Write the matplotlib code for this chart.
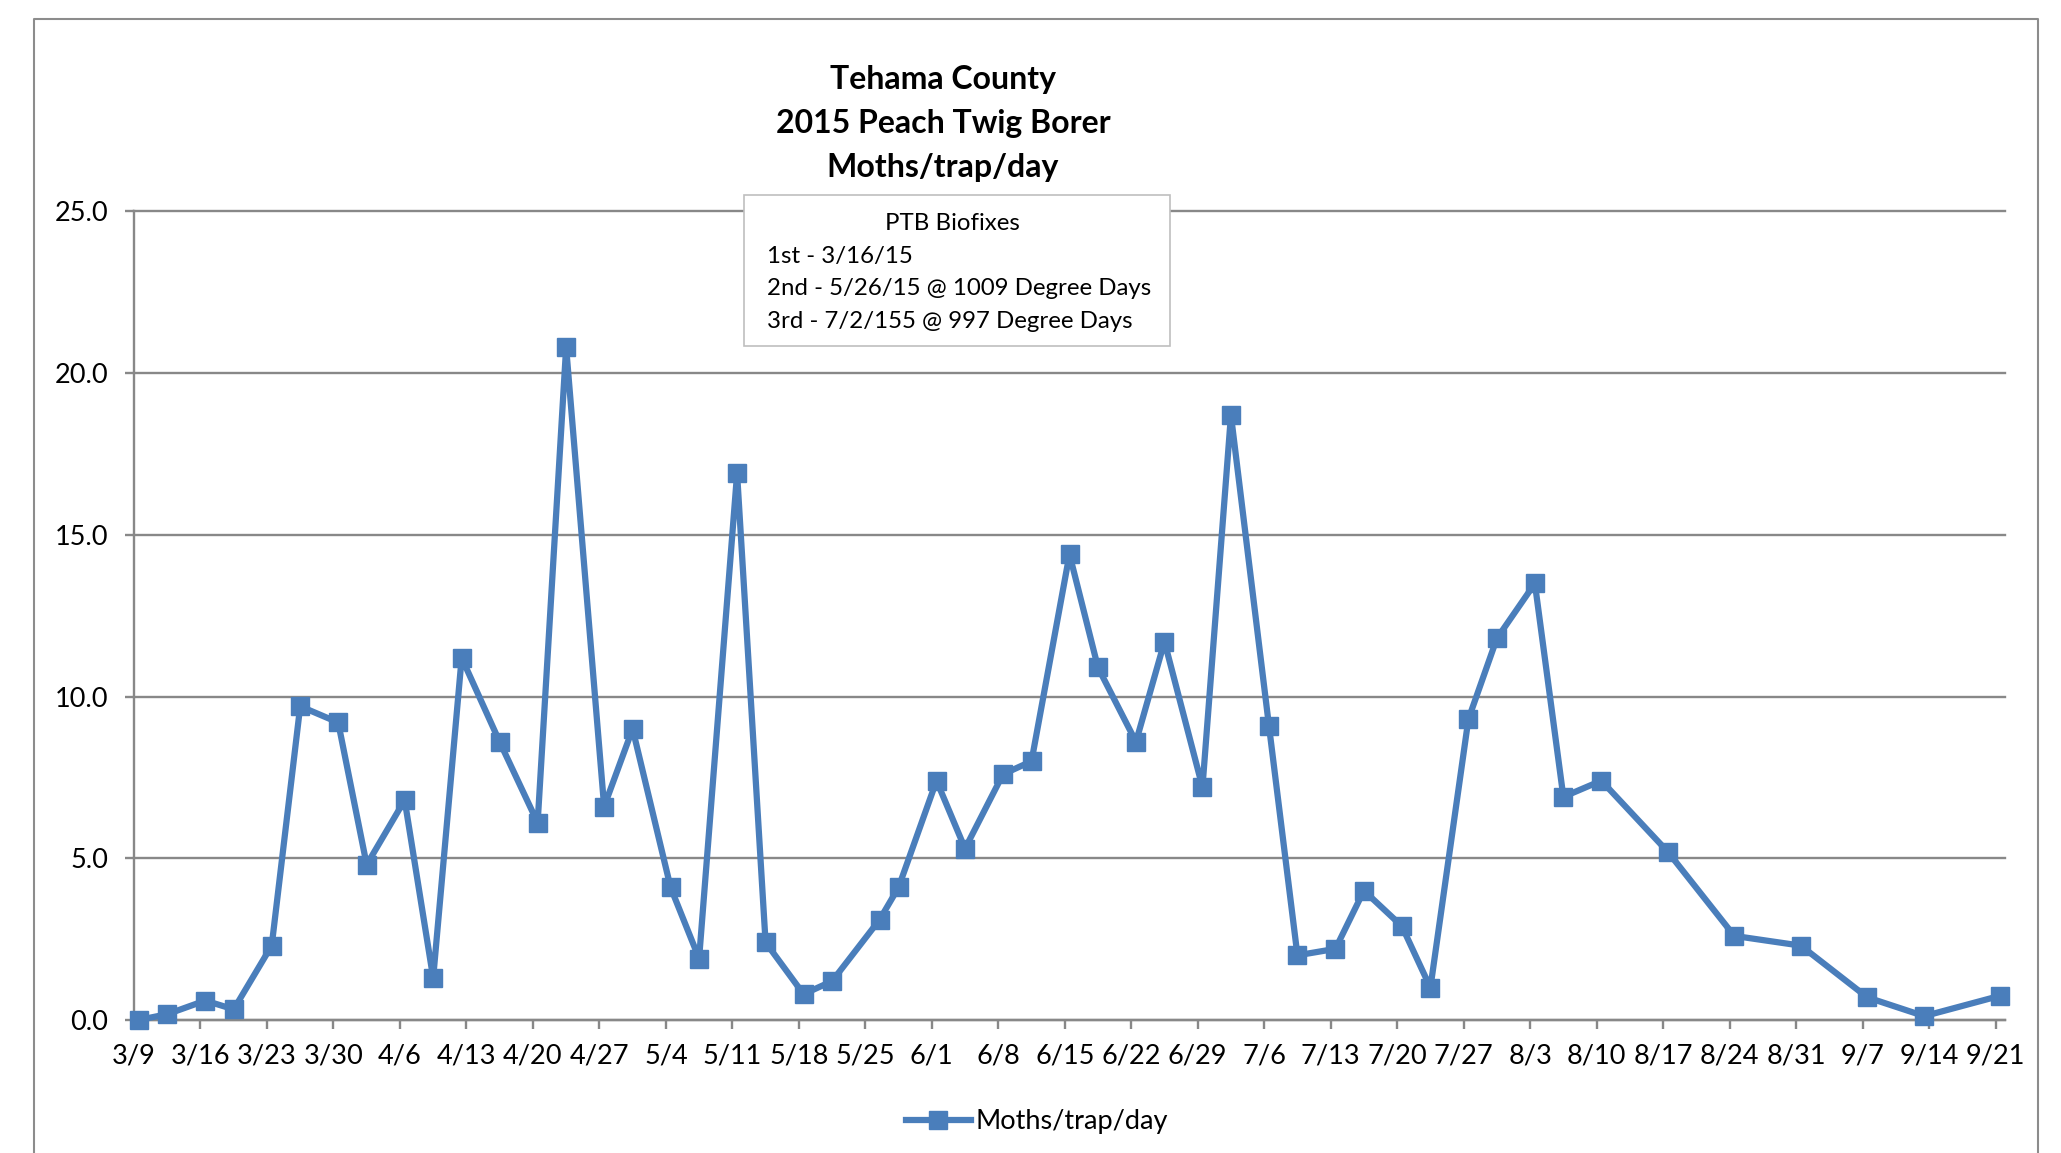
import pandas as pd
import matplotlib
matplotlib.use("Agg")
import matplotlib.pyplot as plt
from matplotlib.lines import Line2D
from matplotlib.patches import Rectangle

plt.rcParams['font.family'] = ['Lato', 'DejaVu Sans']

# trap dates and counts (moths/trap/day)
trap_dates = ['2015-03-09', '2015-03-12', '2015-03-16', '2015-03-19', '2015-03-23',
              '2015-03-26', '2015-03-30', '2015-04-02', '2015-04-06', '2015-04-09',
              '2015-04-12', '2015-04-16', '2015-04-20', '2015-04-23', '2015-04-27',
              '2015-04-30', '2015-05-04', '2015-05-07', '2015-05-11', '2015-05-14',
              '2015-05-18', '2015-05-21', '2015-05-26', '2015-05-28', '2015-06-01',
              '2015-06-04', '2015-06-08', '2015-06-11', '2015-06-15', '2015-06-18',
              '2015-06-22', '2015-06-25', '2015-06-29', '2015-07-02', '2015-07-06',
              '2015-07-09', '2015-07-13', '2015-07-16', '2015-07-20', '2015-07-23',
              '2015-07-27', '2015-07-30', '2015-08-03', '2015-08-06', '2015-08-10',
              '2015-08-17', '2015-08-24', '2015-08-31', '2015-09-07', '2015-09-13',
              '2015-09-21']
moths = [0.0, 0.18, 0.6, 0.33, 2.3,
         9.7, 9.2, 4.8, 6.8, 1.3,
         11.2, 8.6, 6.1, 20.8, 6.6,
         9.0, 4.1, 1.9, 16.9, 2.4,
         0.8, 1.2, 3.1, 4.1, 7.4,
         5.3, 7.6, 8.0, 14.4, 10.9,
         8.6, 11.7, 7.2, 18.7, 9.1,
         2.0, 2.2, 4.0, 2.9, 1.0,
         9.3, 11.8, 13.5, 6.9, 7.4,
         5.2, 2.6, 2.3, 0.7, 0.12,
         0.75]

title_lines = ['Tehama County', '2015 Peach Twig Borer', 'Moths/trap/day']
box_title = 'PTB Biofixes'
box_lines = ['1st - 3/16/15',
             '2nd - 5/26/15 @ 1009 Degree Days',
             '3rd - 7/2/155 @ 997 Degree Days']
series_name = 'Moths/trap/day'

W, H = 2061, 1153
BLUE = '#4A7EBB'
GRID = '#888888'


def fx(px):
    return px / W


def fy(py):
    return 1 - py / H


dates = pd.to_datetime(trap_dates)
# excel date axis puts each point in the middle of its day
xs = dates + pd.Timedelta(hours=12)
ticks = pd.date_range('2015-03-09', '2015-09-21', freq='7D')

fig = plt.figure(figsize=(W / 100, H / 100), dpi=100)
ax = fig.add_axes([fx(134), fy(1020), fx(2005) - fx(134), fy(211.5) - fy(1020)])

ax.plot(xs, moths, color=BLUE, lw=4.5, marker='s', ms=12.5, mfc=BLUE, mec=BLUE,
        label=series_name, zorder=3, clip_on=False)

ax.set_xlim(pd.Timestamp('2015-03-09'), pd.Timestamp('2015-09-22'))
ax.set_ylim(0, 25)
ax.set_yticks([0, 5, 10, 15, 20, 25])
ax.set_yticklabels([f'{v:.1f}' for v in [0, 5, 10, 15, 20, 25]])
ax.set_xticks(ticks)
ax.set_xticklabels([f'{d.month}/{d.day}' for d in ticks])

ax.yaxis.grid(True, color=GRID, lw=1.7)
for gl in ax.get_ygridlines():
    gl.set_clip_on(False)
ax.set_axisbelow(True)
for s in ['top', 'right']:
    ax.spines[s].set_visible(False)
for s in ['left', 'bottom']:
    ax.spines[s].set_color(GRID)
    ax.spines[s].set_linewidth(1.7)
ax.tick_params(axis='both', color=GRID, width=1.7, length=6.5, labelsize=19.5)
ax.tick_params(axis='y', pad=12)
ax.tick_params(axis='x', pad=10.5)

# chart border
fig.add_artist(Line2D([fx(34), fx(34), fx(2038), fx(2038)],
                      [0, fy(19), fy(19), 0], color='#8C8C8C', lw=1.5))

for line, yb in zip(title_lines, [89, 133, 177]):
    fig.text(fx(943), fy(yb), line, ha='center', va='baseline',
             fontsize=23, fontweight='bold')

# biofix note
fig.add_artist(Rectangle((fx(744), fy(346)), fx(1170) - fx(744), fy(195) - fy(346),
                         facecolor='white', edgecolor='#BFBFBF', lw=1.2, zorder=5))
fig.text(fx(952), fy(230), box_title, ha='center', va='baseline', fontsize=17.3, zorder=6)
for line, yb in zip(box_lines, [263, 295, 328]):
    fig.text(fx(767), fy(yb), line, ha='left', va='baseline', fontsize=17.3, zorder=6)

fig.legend(loc='center', bbox_to_anchor=(fx(1037), fy(1122)), frameon=False,
           fontsize=19.5, handlelength=2.4, handletextpad=0.2, borderpad=0)

fig.savefig('out.png', dpi=100)
